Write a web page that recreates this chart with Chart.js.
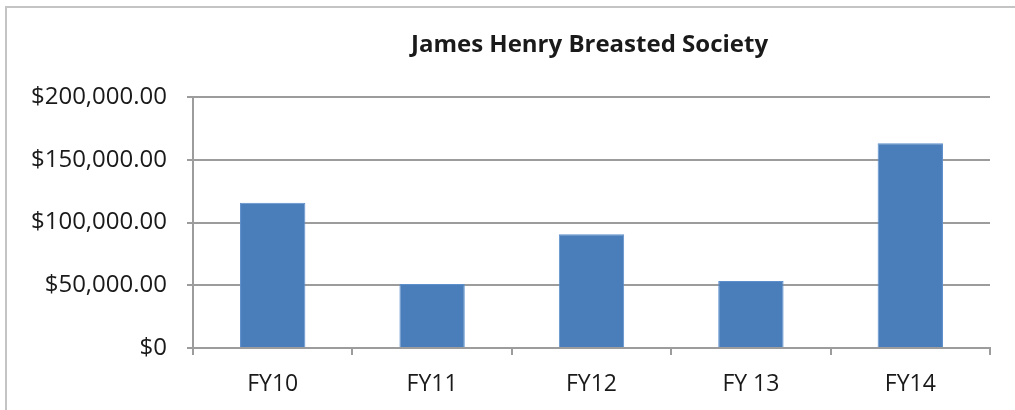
<!DOCTYPE html>
<html>
<head>
<meta charset="utf-8">
<script src="https://cdn.jsdelivr.net/npm/chart.js@4/dist/chart.umd.min.js"></script>
<style>
html,body{margin:0;padding:0;background:#fff;}
#wrap{position:relative;width:1015px;height:410px;}
canvas{display:block;}
</style>
</head>
<body>
<div id="wrap"><canvas id="c" width="1015" height="410"></canvas></div>
<script>
const chartTitle = "James Henry Breasted Society";
const categories = ["FY10", "FY11", "FY12", "FY 13", "FY14"];
const values = [115800, 50900, 90600, 53300, 163200];
const yTickValues = [0, 50000, 100000, 150000, 200000];
const yTickLabels = ["$0", "$50,000.00", "$100,000.00", "$150,000.00", "$200,000.00"];

const gridGray = '#9c9c9c';
const textColor = '#1a1a1a';
const fontFamily = '"Open Sans", "DejaVu Sans", sans-serif';

const framePlugin = {
  id: 'frame',
  beforeDraw(chart) {
    const ctx = chart.ctx;
    ctx.save();
    ctx.fillStyle = '#ffffff';
    ctx.fillRect(0, 0, chart.width, chart.height);
    ctx.strokeStyle = '#c4c4c4';
    ctx.lineWidth = 2;
    ctx.beginPath();
    ctx.moveTo(6, chart.height);
    ctx.lineTo(6, 7);
    ctx.lineTo(chart.width, 7);
    ctx.stroke();
    ctx.restore();
  },
  afterDraw(chart) {
    const ctx = chart.ctx;
    const a = chart.chartArea;
    ctx.save();
    ctx.fillStyle = textColor;
    ctx.font = 'bold 24px ' + fontFamily;
    ctx.textAlign = 'center';
    ctx.textBaseline = 'middle';
    ctx.fillText(chartTitle, (a.left + a.right) / 2 - 2, 45);
    ctx.restore();
  }
};

new Chart(document.getElementById('c'), {
  type: 'bar',
  data: {
    labels: categories,
    datasets: [{
      data: values,
      backgroundColor: '#4a7ebb',
      borderColor: '#5d8fcc',
      borderWidth: 1,
      categoryPercentage: 1,
      barPercentage: 0.41
    }]
  },
  options: {
    responsive: false,
    animation: false,
    layout: { padding: { left: 10, right: 25, top: 97, bottom: 0 } },
    plugins: {
      legend: { display: false },
      tooltip: { enabled: false },
      title: { display: false }
    },
    scales: {
      x: {
        offset: true,
        grid: {
          offset: true,
          drawOnChartArea: false,
          drawTicks: true,
          tickLength: 7,
          color: gridGray,
          lineWidth: 2
        },
        border: { display: true, color: gridGray, width: 2 },
        ticks: {
          color: textColor,
          font: { family: fontFamily, size: 23 },
          padding: 16,
          maxRotation: 0
        },
        afterFit(scale) { scale.height = 62; }
      },
      y: {
        min: 0,
        max: 200000,
        afterBuildTicks(scale) { scale.ticks = yTickValues.map(v => ({ value: v })); },
        grid: {
          color: gridGray,
          lineWidth: 2,
          drawTicks: true,
          tickLength: 6
        },
        border: { display: true, color: gridGray, width: 2 },
        ticks: {
          color: textColor,
          font: { family: fontFamily, size: 24 },
          padding: 20,
          callback(value) {
            const i = yTickValues.indexOf(value);
            return i >= 0 ? yTickLabels[i] : '';
          }
        },
        afterFit(scale) { scale.width = 183; }
      }
    }
  },
  plugins: [framePlugin]
});
</script>
</body>
</html>
